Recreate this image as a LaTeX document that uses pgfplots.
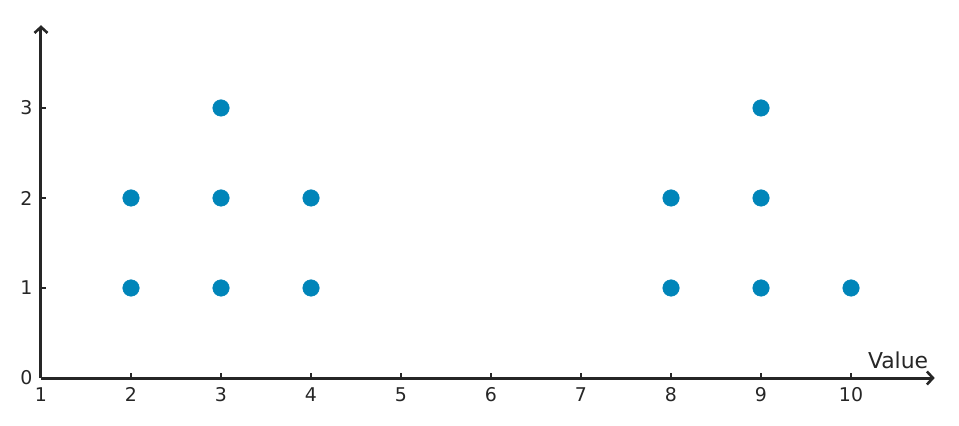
\documentclass[border=0pt]{standalone}
\usepackage{fontspec}
\setmainfont{DejaVu Sans}
\usepackage{pgfplots}
\pgfplotsset{compat=1.18}
\usetikzlibrary{arrows.meta}
\definecolor{dotblue}{RGB}{0,133,185}
\definecolor{axisgrey}{RGB}{38,38,38}
\begin{document}
\begin{tikzpicture}
\useasboundingbox (-41bp,-48bp) rectangle (918bp,378bp);
\begin{axis}[
    at={(0,0)}, anchor=south west,
    x=90bp, y=90bp,
    xmin=1, xmax=10.93,
    ymin=0, ymax=3.92,
    axis lines=left,
    axis line style={line width=3bp, draw=axisgrey,
        -{Straight Barb[length=6bp,width=13bp,line width=2.6bp]}},
    tick align=inside,
    major tick length=5bp,
    tick style={line width=2.5bp, draw=axisgrey},
    xtick={1,2,3,4,5,6,7,8,9,10},
    ytick={0,1,2,3},
    /pgf/number format/assume math mode=true,
    ticklabel style={font=\fontsize{19}{22}\selectfont, text=axisgrey},
    xticklabel style={yshift=-6bp},
    yticklabel style={xshift=-5bp},
    xlabel={Value},
    xlabel style={at={(rel axis cs:1,0)}, anchor=south east,
        xshift=-3bp, yshift=6bp, font=\fontsize{22}{26}\selectfont, text=axisgrey},
    clip=false,
]
\addplot[only marks, mark=*, mark size=8.3bp, color=dotblue] coordinates {
    (2,1) (2,2)
    (3,1) (3,2) (3,3)
    (4,1) (4,2)
    (8,1) (8,2)
    (9,1) (9,2) (9,3)
    (10,1)
};
\end{axis}
\end{tikzpicture}
\end{document}
